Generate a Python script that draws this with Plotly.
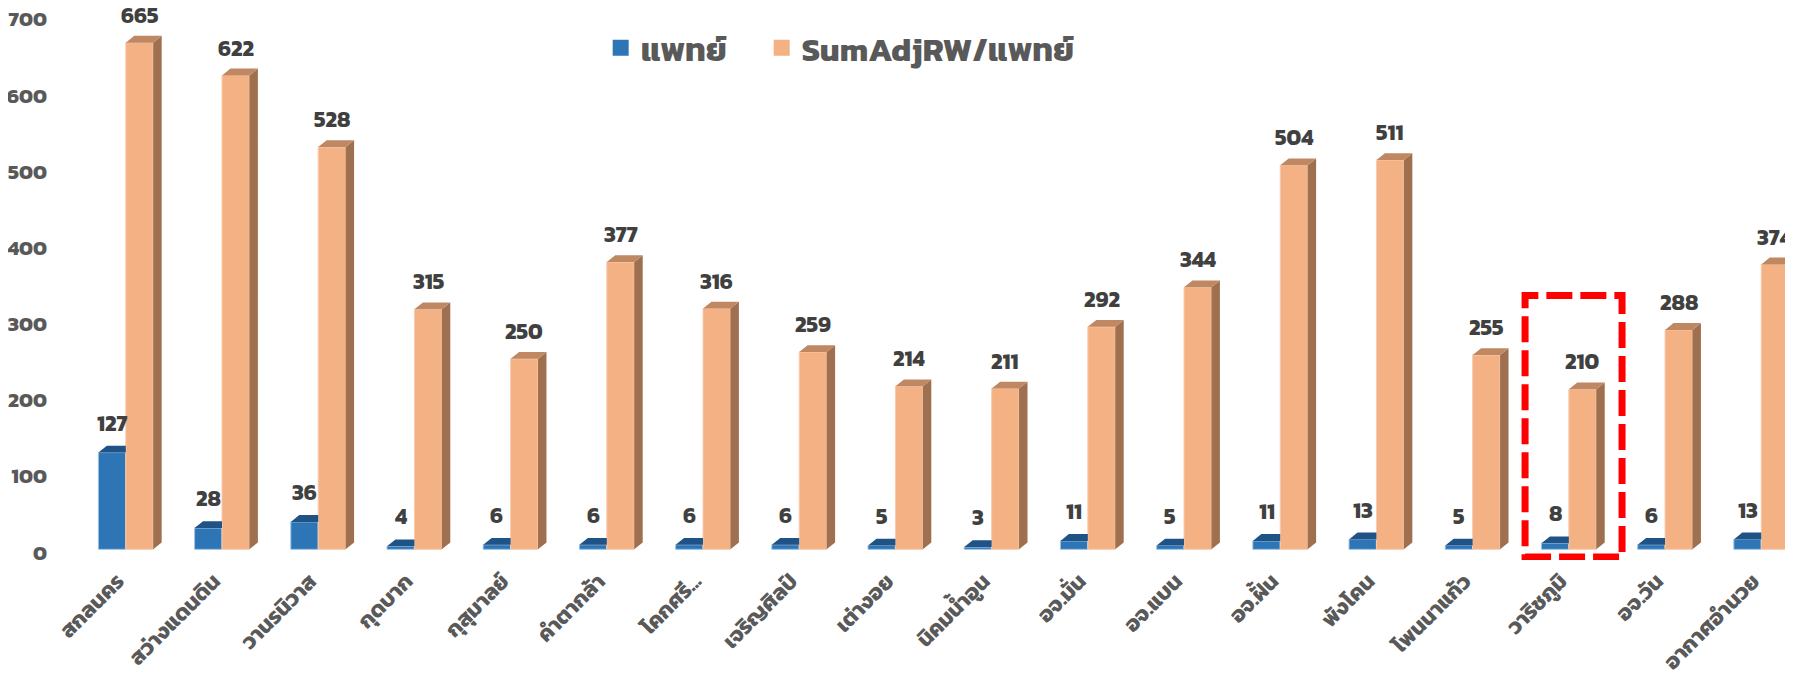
import plotly.graph_objects as go

categories = ["สกลนคร", "สว่างแดนดิน", "วานรนิวาส", "กุดบาก", "กุสุมาลย์", "คำตากล้า",
              "โคกศรี...", "เจริญศิลป์", "เต่างอย", "นิคมน้ำอูน", "อจ.มั่น", "อจ.แบน",
              "อจ.ฝั้น", "พังโคน", "โพนนาแก้ว", "วาริชภูมิ", "อจ.วัน", "อากาศอำนวย"]
doctors = [127, 28, 36, 4, 6, 6, 6, 6, 5, 3, 11, 5, 11, 13, 5, 8, 6, 13]
sumadj_per_doc = [665, 622, 528, 315, 250, 377, 316, 259, 214, 211, 292, 344, 504, 511, 255, 210, 288, 374]
series_names = ["แพทย์", "SumAdjRW/แพทย์"]
y_ticks = [0, 100, 200, 300, 400, 500, 600, 700]
highlight = "วาริชภูมิ"

BLUE, BLUE_TOP, BLUE_EDGE = "#2E75B6", "#1F5285", "#9DC3E6"
ORG, ORG_TOP, ORG_SIDE, ORG_EDGE = "#F4B183", "#C08763", "#9E7050", "#F8CBAD"
W = 0.285           # bar width in category units
DX, DY = 0.088, 9   # 3D depth offset (x in category units, y in value units)
FONT = "Kanit, 'Noto Sans Thai', 'Noto Sans', sans-serif"
GRAY = "#595959"
LABEL = "#404040"

xs = list(range(len(categories)))
fig = go.Figure()

fig.add_trace(go.Bar(x=xs, y=doctors, width=W, offset=-W, name=series_names[0], showlegend=False,
                     marker=dict(color=BLUE, line=dict(color=BLUE_EDGE, width=1))))
fig.add_trace(go.Bar(x=xs, y=sumadj_per_doc, width=W, offset=0, name=series_names[1], showlegend=False,
                     marker=dict(color=ORG, line=dict(color=ORG_EDGE, width=1))))


def poly(points_list):
    px, py = [], []
    for pts in points_list:
        for (a, b) in pts:
            px.append(a); py.append(b)
        px.append(pts[0][0]); py.append(pts[0][1])
        px.append(None); py.append(None)
    return px, py


blue_top = [[(x - W, v), (x - W + DX, v + DY), (x, v + DY), (x, v)] for x, v in zip(xs, doctors)]
org_side = [[(x + W, 0), (x + W + DX, DY), (x + W + DX, v + DY), (x + W, v)] for x, v in zip(xs, sumadj_per_doc)]
org_top = [[(x, v), (x + DX, v + DY), (x + W + DX, v + DY), (x + W, v)] for x, v in zip(xs, sumadj_per_doc)]
for faces, col in [(blue_top, BLUE_TOP), (org_side, ORG_SIDE), (org_top, ORG_TOP)]:
    px, py = poly(faces)
    fig.add_trace(go.Scatter(x=px, y=py, fill="toself", fillcolor=col, mode="lines",
                             line=dict(width=0, color=col), showlegend=False, hoverinfo="skip"))

# legend entries (square swatches)
for i, (nm, col) in enumerate(zip(series_names, [BLUE, ORG])):
    extra = dict(legendwidth=116) if i == 0 else {}
    fig.add_trace(go.Scatter(x=[None], y=[None], mode="markers", name=f"<b>{nm}</b>",
                             marker=dict(symbol="square", size=16, color=col), **extra))

annots = []
for x, v in zip(xs, doctors):
    annots.append(dict(x=x - W / 2, y=v + DY, text=f"<b>{v}</b>", showarrow=False,
                       yanchor="bottom", yshift=4, font=dict(size=22, color=LABEL, family=FONT)))
for x, v in zip(xs, sumadj_per_doc):
    annots.append(dict(x=x + W / 2, y=v + DY, text=f"<b>{v}</b>", showarrow=False,
                       yanchor="bottom", yshift=2, font=dict(size=22, color=LABEL, family=FONT)))

hi = categories.index(highlight)
shapes = [dict(type="rect", xref="x", yref="y", x0=hi - 0.455, x1=hi + 0.553, y0=-10, y1=333,
               line=dict(color="#FF0000", width=7, dash="26px,8px"), layer="above")]

fig.update_layout(
    width=1785, height=676,
    margin=dict(l=62, r=0, t=8, b=124),
    plot_bgcolor="white", paper_bgcolor="white",
    barmode="overlay",
    font=dict(family=FONT, color=GRAY),
    xaxis=dict(range=[-0.58, 17.33], tickmode="array", tickvals=[x - 0.085 for x in xs],
               ticktext=[f"<b>{c}</b>" for c in categories], tickangle=-45,
               tickfont=dict(size=22, color=GRAY), showgrid=False, zeroline=False,
               showline=False, ticks="", ticklabelstandoff=3, automargin=False,
               ticklabeloverflow="allow"),
    yaxis=dict(range=[-14, 700], tickmode="array", tickvals=y_ticks,
               ticktext=[f"<b>{t}</b>" for t in y_ticks],
               showgrid=False, zeroline=False, showline=False,
               tickfont=dict(size=21, color=GRAY), ticklabelstandoff=22, ticklabelshift=3,
               automargin=False, ticklabeloverflow="allow"),
    legend=dict(orientation="h", x=0.308, xanchor="left", y=0.9415, yanchor="middle",
                font=dict(size=33, color=GRAY), bgcolor="rgba(0,0,0,0)",
                itemwidth=30, traceorder="normal"),
    annotations=annots, shapes=shapes,
)

fig.write_html("out.html")
